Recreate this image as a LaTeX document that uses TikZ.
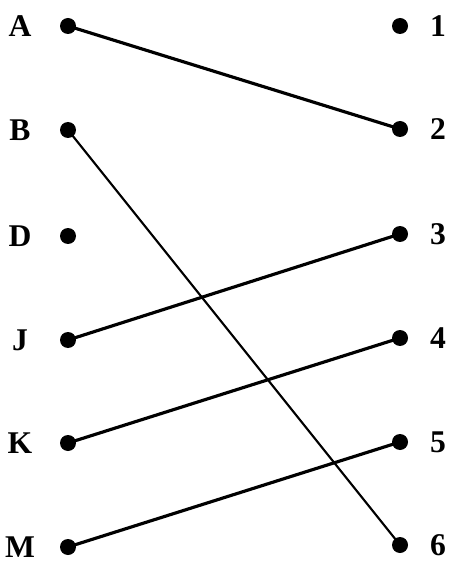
\documentclass[tikz,border=0pt]{standalone}
\usepackage{fontspec}
\setmainfont{Liberation Serif}
\usepackage{tikz}
\usetikzlibrary{positioning}

\begin{document}
\begin{tikzpicture}[
      x=0.02cm,y=-0.02cm,
      node distance=0.2cm,
      dot/.style={circle,fill=black,inner sep=0pt,minimum size=0.32cm},
      lab/.style={font=\fontsize{18}{21}\selectfont\bfseries,inner sep=0pt},
      link/.style={line width=1.8pt},
      thinlink/.style={line width=1.2pt}
    ]
    \useasboundingbox (0,0) rectangle (453,567);
    % left column
    \node[dot] (A) at (68,26) {};
    \node[dot] (B) at (68,130) {};
    \node[dot] (D) at (68,236) {};
    \node[dot] (J) at (68,340) {};
    \node[dot] (K) at (68,443) {};
    \node[dot] (M) at (68,547) {};
    \node[lab,left=0.96cm of A.center,anchor=center] (lA) {A};
    \node[lab,left=0.96cm of B.center,anchor=center] (lB) {B};
    \node[lab,left=0.96cm of D.center,anchor=center] (lD) {D};
    \node[lab,left=0.96cm of J.center,anchor=center] (lJ) {J};
    \node[lab,left=0.96cm of K.center,anchor=center] (lK) {K};
    \node[lab,left=0.96cm of M.center,anchor=center] (lM) {M};
    % right column
    \node[dot] (r1) at (400,26) {};
    \node[dot] (r2) at (400,129) {};
    \node[dot] (r3) at (400,234) {};
    \node[dot] (r4) at (400,338) {};
    \node[dot] (r5) at (400,442) {};
    \node[dot] (r6) at (400,545) {};
    \node[lab,right=0.76cm of r1.center,anchor=center] (l1) {1};
    \node[lab,right=0.76cm of r2.center,anchor=center] (l2) {2};
    \node[lab,right=0.76cm of r3.center,anchor=center] (l3) {3};
    \node[lab,right=0.76cm of r4.center,anchor=center] (l4) {4};
    \node[lab,right=0.76cm of r5.center,anchor=center] (l5) {5};
    \node[lab,right=0.76cm of r6.center,anchor=center] (l6) {6};
    % matching
    \draw[link] (A.center) -- (r2.center);
    \draw[thinlink] (B.center) -- (r6.center);
    \draw[link] (J.center) -- (r3.center);
    \draw[link] (K.center) -- (r4.center);
    \draw[link] (M.center) -- (r5.center);
  \end{tikzpicture}
\end{document}
